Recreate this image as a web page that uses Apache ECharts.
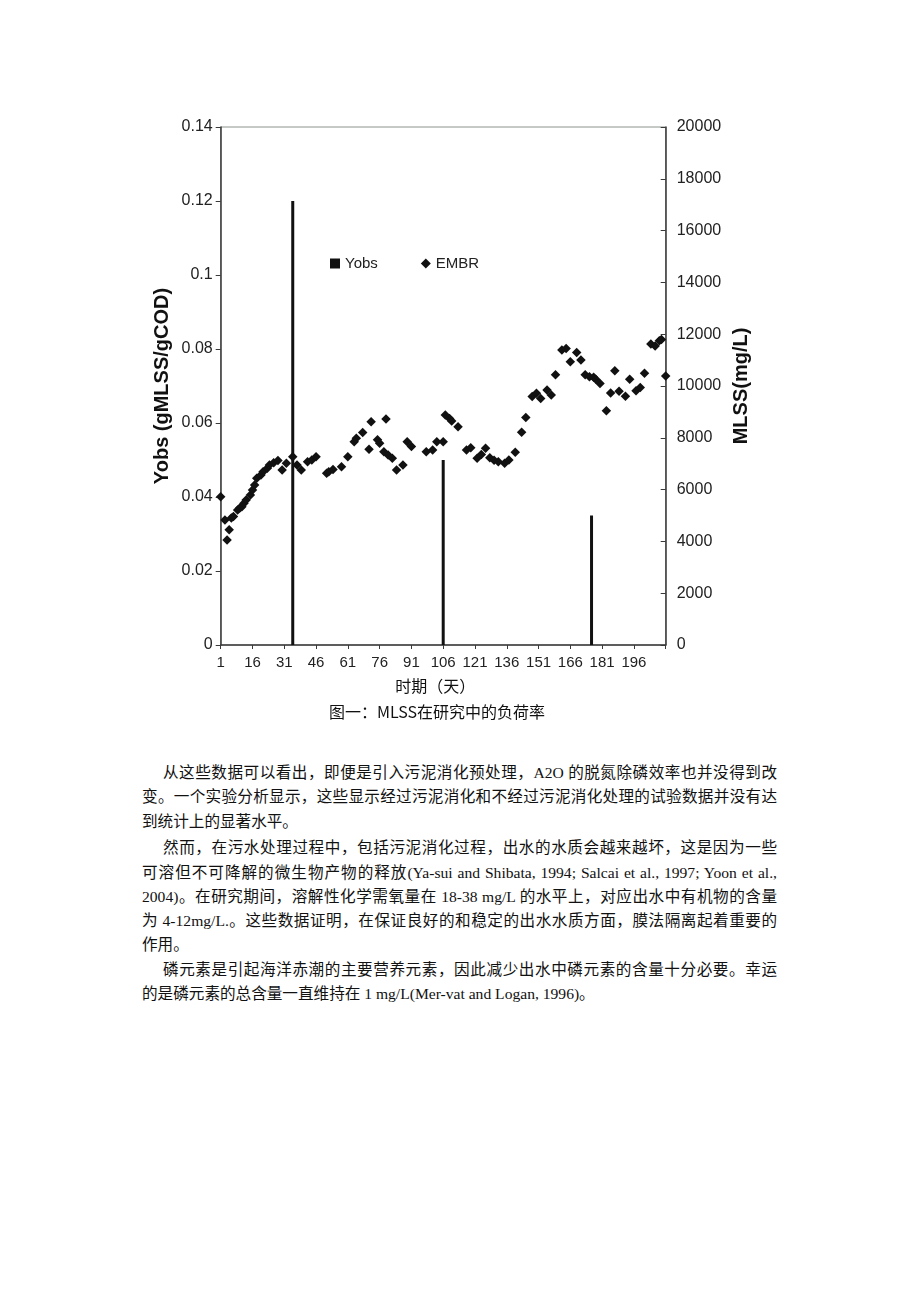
<!DOCTYPE html>
<html><head><meta charset="utf-8">
<script src="https://cdn.jsdelivr.net/npm/echarts@6/dist/echarts.min.js"></script>
<style>
html,body{margin:0;padding:0;background:#fff;}
#page{position:relative;width:920px;height:1302px;overflow:hidden;background:#fff;}
#chart{position:absolute;left:0;top:0;width:920px;height:740px;}
.ln{position:absolute;left:142px;width:635px;height:24px;line-height:24px;font-size:15.6px;color:#111;
font-family:"Liberation Serif","Noto Sans CJK SC",serif;white-space:nowrap;}
.full{text-align:justify;text-align-last:justify;white-space:normal;overflow:visible;}
</style></head>
<body><div id="page"><div id="chart"></div>
<div id="text"></div></div>
<script>
// ---- data ----
var xTickLabels = ['1','16','31','46','61','76','91','106','121','136','151','166','181','196'];
var yobsDays = [35, 106, 176];
var yobsValues = [0.120, 0.050, 0.035];
var embrDays = [1,3,4,5,6,7,9,10,11,12,13,15,16,17,18,20,21,23,24,26,28,30,32,35,37,39,42,44,46,
  51,52,54,58,61,64,65,68,71,72,75,76,78,79,80,82,84,87,89,91,98,101,103,106,107,109,110,113,
  117,119,122,124,126,128,130,132,135,137,140,143,145,148,150,152,155,157,159,162,164,166,169,
  171,173,175,177,178,180,183,185,187,189,192,194,197,199,201,204,206,208,209,211];
var embrMLSS = [5720,4830,4050,4450,4900,4960,5210,5290,5340,5470,5600,5790,5980,6180,6440,6560,6690,6820,6950,7040,7120,6760,7020,7270,6950,6760,7080,7140,7270,
  6630,6690,6780,6880,7270,7850,7980,8200,7560,8620,7920,7790,7460,8730,7340,7210,6760,6950,7850,7660,7460,7530,7850,7850,8880,8750,8650,8430,
  7530,7620,7210,7360,7600,7230,7130,7080,7020,7140,7440,8210,8780,9590,9720,9520,9850,9650,10430,11390,11450,10940,11290,
  11000,10430,10360,10340,10260,10100,9040,9730,10590,9800,9600,10260,9820,9940,10490,11620,11540,11750,11800,10390];
var legendNames = ['Yobs','EMBR'];
var leftName = 'Yobs (gMLSS/gCOD)';
var rightName = 'MLSS(mg/L)';
var xName = '时期（天）';
var caption = '图一：MLSS在研究中的负荷率';
var paragraphs = [
  ['从这些数据可以看出，即便是引入污泥消化预处理，A2O 的脱氮除磷效率也并没得到改',
   '变。一个实验分析显示，这些显示经过污泥消化和不经过污泥消化处理的试验数据并没有达',
   '到统计上的显著水平。'],
  ['然而，在污水处理过程中，包括污泥消化过程，出水的水质会越来越坏，这是因为一些',
   '可溶但不可降解的微生物产物的释放(Ya-sui and Shibata, 1994; Salcai et al., 1997; Yoon et al.,',
   '2004)。在研究期间，溶解性化学需氧量在 18-38 mg/L 的水平上，对应出水中有机物的含量',
   '为 4-12mg/L.。这些数据证明，在保证良好的和稳定的出水水质方面，膜法隔离起着重要的',
   '作用。'],
  ['磷元素是引起海洋赤潮的主要营养元素，因此减少出水中磷元素的含量十分必要。幸运',
   '的是磷元素的总含量一直维持在 1 mg/L(Mer-vat and Logan, 1996)。']
];

// ---- text ----
(function(){
  var tops=[761,785,810,836,861,885,909,933,958,982], k=0, html='';
  paragraphs.forEach(function(p){
    p.forEach(function(line,i){
      var full = i < p.length-1;
      var ind = i===0 ? 'padding-left:21px;width:614px;' : '';
      html += '<div class="ln'+(full?' full':'')+'" style="top:'+tops[k]+'px;'+ind+'">'+line+'</div>';
      k++;
    });
  });
  document.getElementById('text').innerHTML = html;
})();

// ---- chart ----
var chart = echarts.init(document.getElementById('chart'), null, {renderer:'canvas'});
var FONT = '"Liberation Sans", Arial, sans-serif';
var shift = function(d){ return d - 1; };
var barData = yobsDays.map(function(d,i){ return [shift(d), yobsValues[i]]; });
var scData = embrDays.map(function(d,i){ return [shift(d), embrMLSS[i]]; });
var axisLineStyle = {color:'#3a3a3a', width:1.5};
chart.setOption({
  animation:false,
  backgroundColor:'#fff',
  grid:{left:220.7, right:254.3, top:127, height:518, show:true, borderColor:'#8c948c', borderWidth:1, backgroundColor:'transparent'},
  legend:{
    left:325, top:251, itemGap:43, itemWidth:10, itemHeight:10,
    textStyle:{fontFamily:FONT, fontSize:15, color:'#222'},
    data:[{name:legendNames[0], icon:'rect'},{name:legendNames[1], icon:'diamond'}]
  },
  xAxis:{
    type:'value', min:0, max:210, interval:15,
    name:xName, nameLocation:'middle', nameGap:33,
    nameTextStyle:{fontFamily:'"Noto Sans CJK SC", sans-serif', fontSize:16, color:'#111', padding:[0,16,0,0]},
    axisLine:{show:true, lineStyle:axisLineStyle},
    axisTick:{show:true, length:4, lineStyle:{color:'#3a3a3a'}},
    axisLabel:{fontFamily:FONT, fontSize:15, color:'#222', margin:10,
      formatter:function(v){ var i = Math.round(v/15); return i < xTickLabels.length ? xTickLabels[i] : ''; }},
    splitLine:{show:false}
  },
  yAxis:[{
    type:'value', min:0, max:0.14, interval:0.02, position:'left',
    name:leftName, nameLocation:'middle', nameGap:48, nameRotate:90,
    nameTextStyle:{fontFamily:FONT, fontSize:20, fontWeight:'bold', color:'#111'},
    axisLine:{show:true, lineStyle:axisLineStyle},
    axisTick:{show:true, length:5, lineStyle:{color:'#3a3a3a'}},
    axisLabel:{fontFamily:FONT, fontSize:16, color:'#222', margin:8,
      formatter:function(v){ return String(+v.toFixed(2)); }},
    splitLine:{show:false}
  },{
    type:'value', min:0, max:20000, interval:2000, position:'right',
    name:rightName, nameLocation:'middle', nameGap:66, nameRotate:90,
    nameTextStyle:{fontFamily:FONT, fontSize:20, fontWeight:'bold', color:'#111'},
    axisLine:{show:true, lineStyle:axisLineStyle},
    axisTick:{show:true, inside:true, length:5, lineStyle:{color:'#3a3a3a'}},
    axisLabel:{fontFamily:FONT, fontSize:16, color:'#222', margin:11,
      formatter:function(v){ return String(Math.round(v)); }},
    splitLine:{show:false}
  }],
  series:[{
    name:legendNames[0], type:'bar', yAxisIndex:0, barWidth:3,
    itemStyle:{color:'#111'}, data:barData
  },{
    name:legendNames[1], type:'scatter', yAxisIndex:1, symbol:'diamond', symbolSize:9.5,
    itemStyle:{color:'#111', opacity:1}, data:scData, z:3
  }],
  graphic:[{
    type:'text', x:437, y:712,
    style:{text:caption, fill:'#111', font:'16px "Noto Sans CJK SC", sans-serif', align:'center', verticalAlign:'middle'}
  }]
});
</script></body></html>
